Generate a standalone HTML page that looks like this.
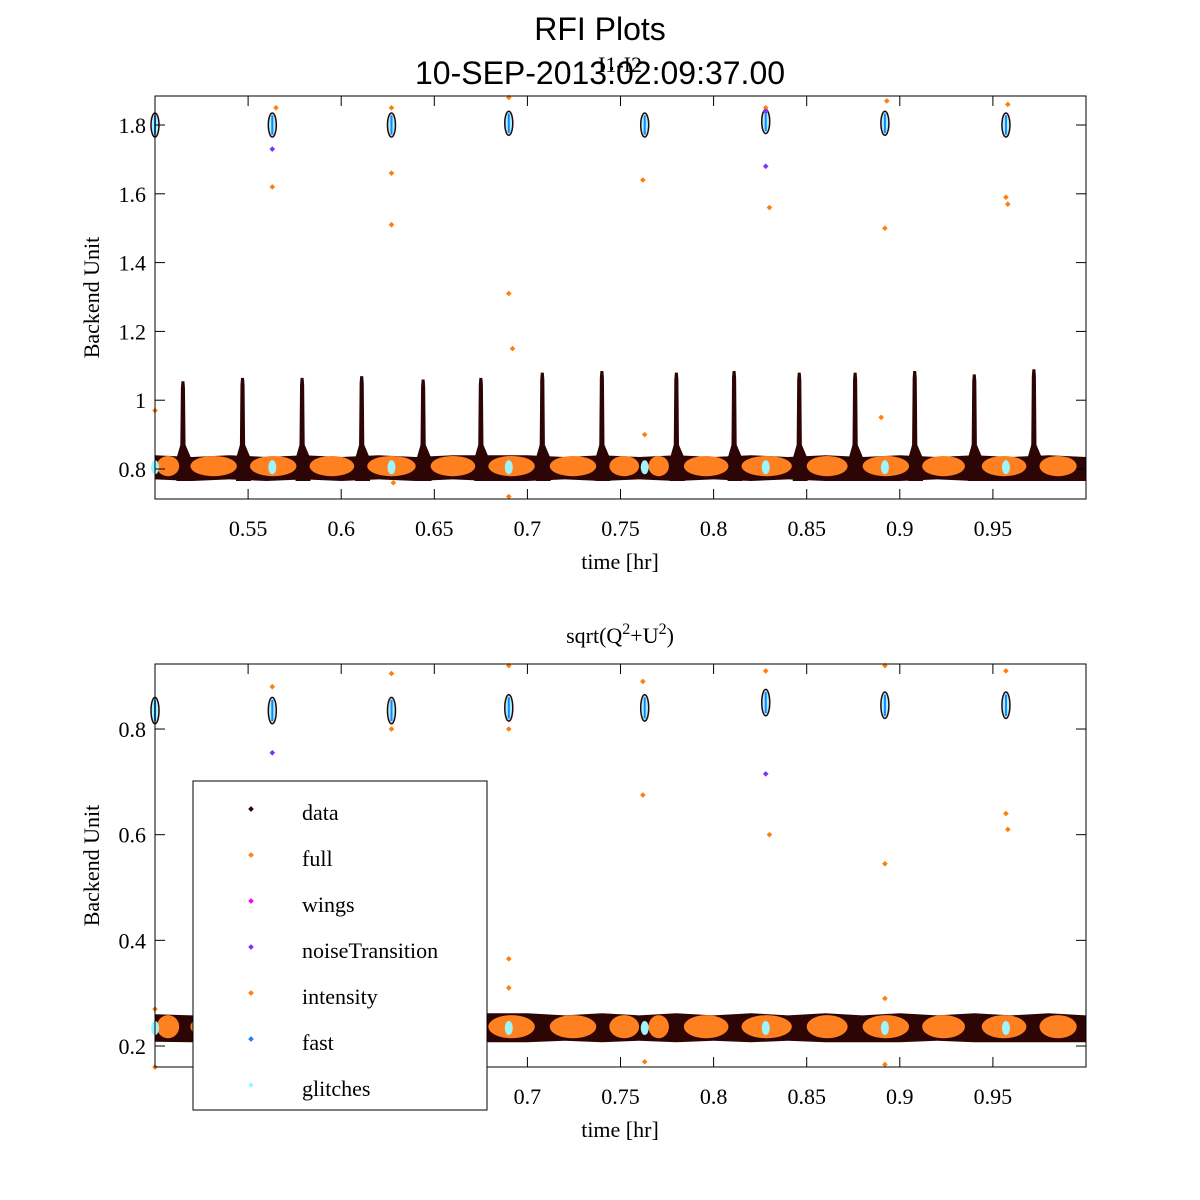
<!DOCTYPE html>
<html><head><meta charset="utf-8"><style>
body{margin:0;background:#fff;}
svg{display:block;}
.t{font-family:"Liberation Serif",serif;font-size:22px;fill:#000;}
.s{font-family:"Liberation Sans",sans-serif;fill:#000;}
</style></head><body>
<svg id="c" width="1200" height="1200" xmlns="http://www.w3.org/2000/svg">
<rect width="1200" height="1200" fill="#fff"/>
<text class="s" x="600" y="40" font-size="32" text-anchor="middle">RFI Plots</text>
<text class="s" x="600" y="84" font-size="32" text-anchor="middle">10-SEP-2013:02:09:37.00</text>
<text class="t" x="620" y="72" font-size="20" text-anchor="middle">I1-I2</text>
<text class="t" x="620" y="643" text-anchor="middle">sqrt(Q<tspan dy="-9" font-size="16">2</tspan><tspan dy="9">+U</tspan><tspan dy="-9" font-size="16">2</tspan><tspan dy="9">)</tspan></text>
<g id="top"></g>
<g id="bot"></g>
<g id="legend"></g>
</svg>
<script>
// ---- data ----
const xTicks=[0.55,0.6,0.65,0.7,0.75,0.8,0.85,0.9,0.95];
const xTickLabels=["0.55","0.6","0.65","0.7","0.75","0.8","0.85","0.9","0.95"];
const topYTicks=[0.8,1.0,1.2,1.4,1.6,1.8];
const topYTickLabels=["0.8","1","1.2","1.4","1.6","1.8"];
const botYTicks=[0.2,0.4,0.6,0.8];
const botYTickLabels=["0.2","0.4","0.6","0.8"];
const bandTimes=[0.5,0.52,0.54,0.56,0.58,0.6,0.62,0.64,0.66,0.68,0.7,0.72,0.74,0.76,0.78,0.8,0.82,0.84,0.86,0.88,0.9,0.92,0.94,0.96,0.98,1.0];
const topBandLo=[0.77,0.765,0.77,0.765,0.77,0.765,0.77,0.765,0.77,0.765,0.765,0.77,0.765,0.77,0.765,0.77,0.765,0.77,0.765,0.765,0.765,0.77,0.765,0.765,0.765,0.765];
const topBandHi=[0.84,0.835,0.84,0.835,0.84,0.835,0.84,0.835,0.84,0.84,0.84,0.835,0.84,0.835,0.84,0.835,0.84,0.835,0.84,0.835,0.84,0.835,0.84,0.835,0.84,0.835];
const botBandLo=[0.208,0.207,0.21,0.207,0.21,0.207,0.21,0.207,0.21,0.207,0.207,0.21,0.207,0.21,0.207,0.21,0.207,0.21,0.207,0.207,0.207,0.21,0.207,0.207,0.207,0.207];
const botBandHi=[0.26,0.258,0.262,0.258,0.262,0.258,0.262,0.258,0.262,0.262,0.262,0.258,0.262,0.258,0.262,0.258,0.262,0.258,0.262,0.258,0.262,0.258,0.262,0.258,0.262,0.258];
const spikeTimes=[0.515,0.547,0.579,0.611,0.644,0.675,0.708,0.740,0.780,0.811,0.846,0.876,0.908,0.940,0.972];
const spikePeaks=[1.055,1.065,1.065,1.07,1.06,1.065,1.08,1.085,1.08,1.085,1.08,1.08,1.085,1.075,1.09];
const orangeStart=[0.501,0.519,0.551,0.583,0.614,0.648,0.679,0.712,0.744,0.765,0.784,0.815,0.850,0.880,0.912,0.944,0.975];
const orangeEnd=[0.513,0.544,0.576,0.607,0.640,0.672,0.704,0.737,0.760,0.776,0.808,0.842,0.872,0.905,0.935,0.968,0.995];
const calTimes=[0.5,0.563,0.627,0.69,0.763,0.828,0.892,0.957];
const topCal=[1.80,1.80,1.80,1.805,1.80,1.81,1.805,1.80];
const botCal=[0.835,0.835,0.835,0.84,0.84,0.85,0.845,0.845];
const topOutT=[0.563,0.627,0.627,0.69,0.692,0.762,0.83,0.892,0.89,0.957,0.958,0.565,0.627,0.69,0.828,0.893,0.958,0.763,0.69,0.5,0.628];
const topOutV=[1.62,1.66,1.51,1.31,1.15,1.64,1.56,1.50,0.95,1.59,1.57,1.85,1.85,1.88,1.85,1.87,1.86,0.90,0.72,0.97,0.76];
const topPurT=[0.563,0.828,0.828];
const topPurV=[1.73,1.68,1.84];
const botOutT=[0.563,0.627,0.627,0.69,0.69,0.69,0.69,0.762,0.762,0.828,0.83,0.892,0.892,0.892,0.957,0.957,0.958,0.5,0.5,0.763,0.892];
const botOutV=[0.88,0.905,0.80,0.92,0.80,0.365,0.31,0.89,0.675,0.91,0.60,0.92,0.545,0.29,0.91,0.64,0.61,0.27,0.16,0.17,0.165];
const botPurT=[0.563,0.828];
const botPurV=[0.755,0.715];
const legendNames=["data","full","wings","noiseTransition","intensity","fast","glitches"];
const legendColors=["#2e0505","#ff8020","#ff00ff","#7f30ff","#ff7f0e","#1e80ff","#9ff5ff"];

// ---- drawing ----
const NS="http://www.w3.org/2000/svg";
function mk(tag,attrs,parent){const e=document.createElementNS(NS,tag);for(const k in attrs)e.setAttribute(k,attrs[k]);parent.appendChild(e);return e;}
const X0=155,X1=1086;
const xs=t=>X0+(t-0.5)*(X1-X0)/0.5;
function panel(g,top,bottom,yv,bandLo,bandHi,yT,yTL,withSpikes,cal,outT,outV,purT,purV,calH){
  let pts=bandTimes.map((t,i)=>xs(t)+","+yv(bandHi[i]));
  for(let i=bandTimes.length-1;i>=0;i--)pts.push(xs(bandTimes[i])+","+yv(bandLo[i]));
  const b=mk("polygon",{points:pts.join(" "),fill:"#2e0505"},g);
  
  
  if(withSpikes){
    spikeTimes.forEach((t,i)=>{
      const p=spikePeaks[i];
      const s=mk("polygon",{points:[
        [xs(t-0.0035),yv(0.83)],[xs(t-0.0014),yv(0.87)],[xs(t-0.0011),yv(p-0.02)],[xs(t-0.0008),yv(p)],[xs(t+0.0008),yv(p)],[xs(t+0.0011),yv(p-0.02)],
        [xs(t+0.0014),yv(0.87)],[xs(t+0.0045),yv(0.83)],[xs(t+0.0045),yv(0.765)],[xs(t-0.0035),yv(0.765)]].map(q=>q.join(",")).join(" "),fill:"#2e0505"},g);
      
      
    });
  }
  orangeStart.forEach((s,i)=>{
    const e=orangeEnd[i];
    const mid=(bandLo[0]+bandHi[0])/2, h=(bandHi[0]-bandLo[0]);
    const o=mk("ellipse",{cx:(xs(s)+xs(e))/2,cy:yv(mid+h*0.05),rx:(xs(e)-xs(s))/2,ry:Math.abs(yv(mid+h*0.42)-yv(mid)),fill:"#ff8020"},g);
    
    
  });
  calTimes.forEach((t,i)=>{
    const v=cal[i];
    const c=mk("ellipse",{cx:xs(t),cy:yv(v),rx:4,ry:Math.abs(yv(v+calH)-yv(v)),fill:"#9ff5ff",stroke:"#2e0505","stroke-width":1.5},g);
    
    
    mk("line",{x1:xs(t),x2:xs(t),y1:yv(v+calH*0.8),y2:yv(v-calH*0.8),stroke:"#1e80ff","stroke-width":2},g);
    const bc=mk("ellipse",{cx:xs(t),cy:yv((bandLo[0]+bandHi[0])/2),rx:4,ry:7,fill:"#9ff5ff"},g);
    
    
  });
  outT.forEach((t,i)=>{
    const d=mk("rect",{x:xs(t)-2,y:yv(outV[i])-2,width:4,height:4,fill:"#ff7f0e",transform:`rotate(45 ${xs(t)} ${yv(outV[i])})`},g);
    
    
  });
  purT.forEach((t,i)=>{
    const d=mk("rect",{x:xs(t)-2,y:yv(purV[i])-2,width:4,height:4,fill:"#7f30ff",transform:`rotate(45 ${xs(t)} ${yv(purV[i])})`},g);
    
    
  });
  const f=mk("rect",{x:X0,y:top,width:X1-X0,height:bottom-top,fill:"none",stroke:"#000","stroke-width":1},g);
  
  
  xTicks.forEach((t,i)=>{
    mk("line",{x1:xs(t),x2:xs(t),y1:bottom,y2:bottom-10,stroke:"#000"},g);
    mk("line",{x1:xs(t),x2:xs(t),y1:top,y2:top+10,stroke:"#000"},g);
    const l=mk("text",{x:xs(t),y:bottom+37,"text-anchor":"middle",class:"t"},g);
    l.textContent=xTickLabels[i];
    
    
  });
  yT.forEach((v,i)=>{
    mk("line",{x1:X0,x2:X0+10,y1:yv(v),y2:yv(v),stroke:"#000"},g);
    mk("line",{x1:X1,x2:X1-10,y1:yv(v),y2:yv(v),stroke:"#000"},g);
    const l=mk("text",{x:146,y:yv(v)+8,"text-anchor":"end",class:"t"},g);
    l.textContent=yTL[i];
    
    
  });
  const xl=mk("text",{x:620,y:bottom+70,"text-anchor":"middle",class:"t"},g);
  xl.textContent="time [hr]";
  
  
  const yl=mk("text",{x:0,y:0,"text-anchor":"middle",class:"t",transform:`translate(99 ${(top+bottom)/2}) rotate(-90)`},g);
  yl.textContent="Backend Unit";
  
  
}
const y1=v=>469-(v-0.8)*344;
const y2=v=>1046-(v-0.2)*528.3;
panel(document.getElementById("top"),96,499,y1,topBandLo,topBandHi,topYTicks,topYTickLabels,true,topCal,topOutT,topOutV,topPurT,topPurV,0.035);
panel(document.getElementById("bot"),664,1067,y2,botBandLo,botBandHi,botYTicks,botYTickLabels,false,botCal,botOutT,botOutV,botPurT,botPurV,0.025);
const lg=document.getElementById("legend");
mk("rect",{x:193,y:781,width:294,height:329,fill:"#fff",stroke:"#000"},lg);
legendNames.forEach((n,i)=>{
  const y=812+i*46;
  const m=mk("rect",{x:249,y:y-5,width:4,height:4,fill:legendColors[i],transform:`rotate(45 251 ${y-3})`},lg);
  
  
  const t=mk("text",{x:302,y:y+8,class:"t"},lg);
  t.textContent=n;
  
  
});
</script>
</body></html>
